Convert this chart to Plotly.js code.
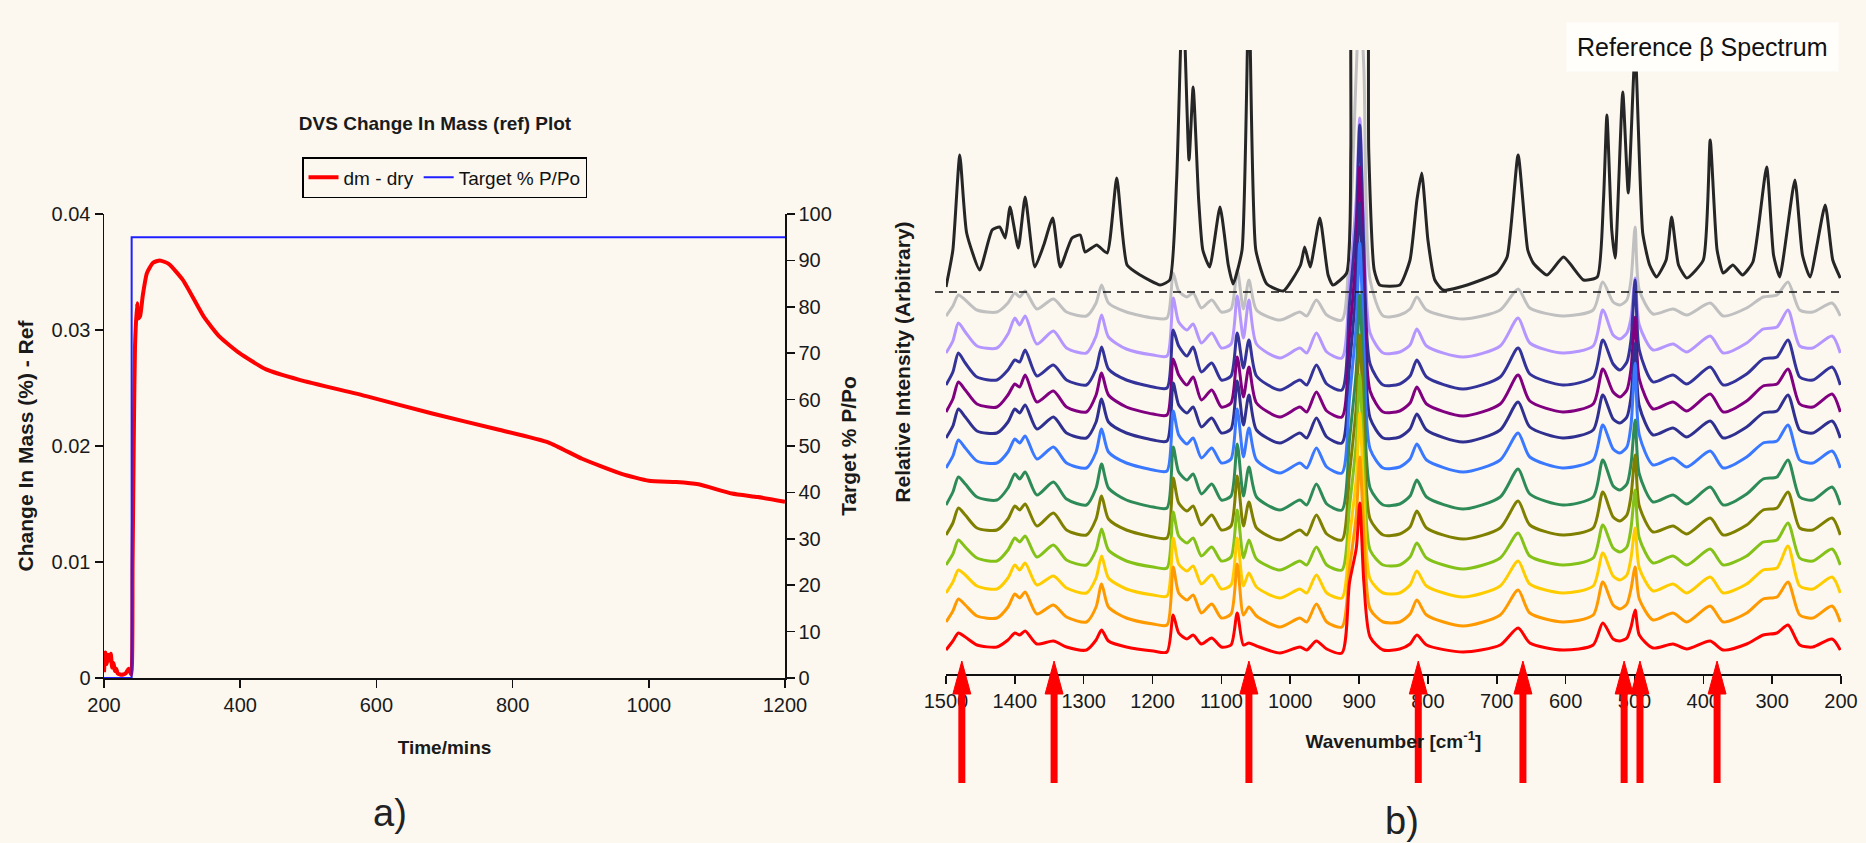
<!DOCTYPE html>
<html><head><meta charset="utf-8">
<script src="https://cdn.plot.ly/plotly-3.0.1.min.js"></script>
<style>html,body{margin:0;padding:0;background:#fcf8f0;} #chart{width:1866px;height:843px;}</style>
</head><body><div id="chart"></div>
<script>
// ---------- Panel a) DVS data ----------
const dvsTime = [200,202,204,206,208,210,212,214,216,218,220,224,228,232,236,240,242,244,245.5,248.5,250.5,253,257,263,272,282,295,316,347,370,399,438,487,585,682,780,853,902,960,1000,1040,1073,1122,1160,1200];
const dvsMass = [0.0005,0.0022,0.0012,0.002,0.0015,0.0021,0.0009,0.0013,0.0006,0.0008,0.0004,0.0003,0.0003,0.0004,0.0008,0.0003,0.01,0.022,0.0285,0.0323,0.031,0.0312,0.033,0.0349,0.0358,0.036,0.0357,0.0343,0.0311,0.0294,0.028,0.0266,0.0257,0.0243,0.0228,0.0214,0.0203,0.0189,0.0176,0.017,0.0169,0.0167,0.0159,0.0156,0.0152];
const targetTime = [200,240.6,240.6,1200];
const targetRH = [0,0,95,95];

// ---------- Panel b) Raman spectra ----------
const wavenumber = [1500,1490,1482,1472,1455,1426,1410,1400,1393,1385,1368,1344,1325,1296,1282,1274,1264,1238,1199,1179,1170,1162,1150,1141,1129,1114,1100,1086,1077,1068,1060,1049,1015,986,976,962,947,925,914,904,899,893,884,865,841,826,816,802,749,695,669,652,604,560,546,531,521,511,505,499,493,473,444,424,390,371,337,313,293,277,260,241,213,201];

const sGray   = [4,14,25,20,10,8,17,27,23,29,11,21,8,4,17,35,17,8,2,2,47,29,23,27,12,20,8,11,50,11,40,10,0,8,4,20,5,0,80,250,330,250,40,4,5,11,23,10,1,10,31,12,4,10,38,18,15,20,40,93,30,6,11,5,17,4,12,23,25,38,10,8,17,4];
const sLavender = [5,17,35,26,12,10,24,40,33,42,14,27,10,5,22,43,21,9,3,2,60,36,28,34,15,25,10,14,62,20,58,14,0,10,5,25,6,0,75,160,240,130,25,5,6,13,29,12,1,12,40,15,5,12,48,23,19,25,40,80,33,8,14,6,22,5,15,29,31,48,12,10,22,5];
const sNavy   = [5,18,37,27,13,10,20,30,28,40,14,25,10,5,21,43,21,10,3,2,60,44,34,43,18,27,10,14,57,22,50,14,0,10,5,25,6,0,85,170,265,140,26,5,6,14,30,13,1,13,42,16,5,13,50,26,20,28,50,110,40,8,15,6,23,5,16,31,33,50,13,10,23,5];
const sPurple = [5,18,35,27,13,10,22,33,30,42,15,26,10,5,22,44,22,10,3,2,58,42,32,40,17,27,10,14,60,20,50,14,0,10,5,25,6,0,80,165,250,135,26,5,6,14,30,13,1,13,42,16,5,13,48,25,20,27,48,100,38,8,15,6,23,5,16,31,33,48,13,10,23,5];
const sIndigo = [5,17,34,26,12,10,21,34,30,38,14,26,10,5,21,44,21,10,3,2,60,38,30,36,16,25,10,14,62,18,48,13,0,10,5,25,6,0,76,158,240,130,25,5,6,14,29,13,1,13,41,16,5,13,48,24,20,26,46,100,37,8,15,6,22,5,16,30,32,48,13,10,22,5];
const sBlue   = [5,17,33,25,12,10,21,34,30,37,14,26,10,5,21,44,21,10,3,2,62,38,29,35,15,25,10,14,64,16,45,13,0,10,5,25,6,0,74,150,230,125,24,5,6,14,29,13,1,13,40,16,5,13,48,24,20,26,48,110,38,8,15,6,22,5,16,30,32,48,13,10,22,5];
const sGreen  = [5,18,33,26,13,10,22,36,31,38,15,28,11,5,22,46,22,10,3,2,63,38,30,36,16,26,10,14,66,14,43,13,0,10,5,26,6,0,70,140,215,118,22,5,6,14,30,13,1,13,41,16,5,13,50,24,20,26,46,90,36,8,15,6,23,5,16,31,33,50,13,10,23,5];
const sOlive  = [5,17,32,25,12,10,21,34,30,36,14,27,10,5,21,44,21,10,3,2,62,37,29,34,15,25,10,14,64,14,38,12,0,10,5,25,6,0,66,134,205,112,21,5,6,13,29,12,1,12,39,15,5,12,48,23,19,25,44,85,34,8,14,6,22,5,15,30,32,48,12,10,22,5];
const sYellowGreen = [5,16,30,23,12,9,20,32,28,34,13,25,10,5,20,41,20,9,3,2,58,34,27,32,14,23,9,13,60,12,30,11,0,9,5,23,5,0,63,128,195,106,20,5,5,13,27,12,1,12,37,14,5,12,45,22,18,23,42,80,32,7,14,5,21,5,14,28,30,47,12,9,21,5];
const sGold   = [5,16,28,23,12,9,20,33,28,35,13,22,10,5,20,42,20,9,3,2,60,34,27,32,14,23,9,13,60,12,25,11,0,9,5,23,5,0,60,120,185,100,19,5,5,13,27,12,1,12,37,14,5,12,45,22,18,23,40,70,30,7,14,5,21,5,14,28,30,52,12,9,21,5];
const sOrange = [5,16,28,22,11,9,20,33,29,35,13,22,10,5,20,43,20,9,3,2,60,34,27,32,14,23,9,13,63,12,20,11,0,9,5,23,5,0,58,112,170,92,18,5,5,13,27,12,1,12,37,14,5,12,45,22,18,23,38,60,28,7,14,5,21,5,14,28,30,45,12,9,21,5];
const sRed    = [3,12,20,16,8,6,13,20,18,22,9,12,6,3,13,23,12,6,2,1,38,20,14,18,9,15,6,8,40,8,10,7,0,6,3,12,4,0,70,105,150,70,16,3,4,9,18,8,1,8,25,10,3,8,30,14,12,15,26,43,18,5,9,4,12,3,9,18,20,28,8,6,14,3];

const spectraOrder  = [sLavender,sNavy,sPurple,sIndigo,sBlue,sGreen,sOlive,sYellowGreen,sGold,sOrange,sRed];
const spectraColors = ['#b596ff','#333399','#800080','#303090','#3a78ff','#2e8b57','#808000','#84c21a','#ffcc00','#ff9900','#ff0000'];
const spectraOffsets = [316,284,257,231,201,164,134,104,76,47,21];
const grayColor = '#c0c0c0', grayOffset = 354;

// Reference beta spectrum
const refWavenumber = [1500,1490,1480,1470,1451,1433,1422,1414,1407,1395,1385,1371,1358,1345,1334,1317,1305,1298,1281,1266,1252,1237,1218,1189,1175,1165,1156,1147,1141,1133,1127,1117,1102,1090,1083,1070,1060,1050,1034,1010,985,979,971,957,945,938,918,912,910,900,889,886,878,870,841,826,816,809,800,790,778,743,700,685,669,655,647,627,603,574,554,545,540,533,528,517,509,499,488,478,468,454,446,436,424,400,390,380,371,357,343,328,308,298,289,267,256,245,223,212,201];
const refIntensity = [0,37,132,54,17,57,60,49,80,39,90,20,42,69,20,49,52,35,42,34,109,22,12,2,7,107,300,127,200,87,37,20,80,22,3,37,300,37,3,-4,22,40,20,69,12,2,14,137,320,300,320,137,17,2,2,27,87,114,47,7,-3,2,14,30,132,37,24,12,30,7,10,87,172,57,29,195,94,237,54,22,10,27,70,22,9,27,147,37,14,22,12,25,120,32,10,107,32,10,82,27,9];
const refOffset = 387;
const dashedLevel = 382;

const arrowWavenumbers = [1477,1343,1060,814,662,515,492,380];

// ---------- build ----------
const FONT = 'Liberation Sans, Arial, sans-serif';
const W = 1866, H = 843;
const px = v => v / W, py = v => 1 - v / H;

const traces = [];
traces.push({x: dvsTime, y: dvsMass, type:'scatter', mode:'lines', name:'dm - dry',
  line:{color:'#ff0000', width:4, shape:'spline', smoothing:0.5}, xaxis:'x', yaxis:'y'});
traces.push({x: targetTime, y: targetRH, type:'scatter', mode:'lines', name:'Target % P/Po',
  line:{color:'#1f1fff', width:2}, xaxis:'x', yaxis:'y2'});

traces.push({x: wavenumber, y: sGray.map(v => v + grayOffset), type:'scatter', mode:'lines', showlegend:false,
  line:{color:grayColor, width:3, shape:'spline', smoothing:0.7}, xaxis:'x3', yaxis:'y3'});
traces.push({x: refWavenumber, y: refIntensity.map(v => v + refOffset), type:'scatter', mode:'lines', showlegend:false,
  line:{color:'#262626', width:3, shape:'spline', smoothing:0.5}, xaxis:'x3', yaxis:'y3'});
spectraOrder.forEach((s, i) => {
  traces.push({x: wavenumber, y: s.map(v => v + spectraOffsets[i]), type:'scatter', mode:'lines', showlegend:false,
    line:{color:spectraColors[i], width:3, shape:'spline', smoothing:0.7}, xaxis:'x3', yaxis:'y3'});
});

const axisCommon = {showline:true, linecolor:'#111', linewidth:1.5, ticks:'outside', ticklen:8, tickwidth:1.5,
  tickcolor:'#111', showgrid:false, zeroline:false, tickfont:{family:FONT, size:20, color:'#1a1a1a'}};

// red marker arrows below the wavenumber axis (shaft + head), placed at the data wavenumbers
const halfHead = 13; // cm-1
const shapes = [{type:'line', xref:'paper', yref:'y3', x0: px(935), x1: px(1843), y0: dashedLevel, y1: dashedLevel,
    line:{color:'#111', width:1.5, dash:'8px,6px'}}];
arrowWavenumbers.forEach(w => {
  shapes.push({type:'line', layer:'above', xref:'x3', yref:'paper', x0:w, x1:w, y0: py(783), y1: py(690),
    line:{color:'#ff0000', width:7}});
  shapes.push({type:'path', layer:'above', xref:'x3', yref:'paper',
    path:`M ${w + halfHead},${py(694)} L ${w},${py(661)} L ${w - halfHead},${py(694)} Z`,
    fillcolor:'#ff0000', line:{color:'#ff0000', width:1}});
});

const annotations = [];
annotations.push({x: px(1702), y: py(47), xref:'paper', yref:'paper', xanchor:'center', yanchor:'middle',
  text:'Reference β Spectrum', showarrow:false,
  font:{family:FONT, size:25, color:'#111'}, bgcolor:'#fffefb', borderpad:10});
annotations.push({x: px(390), y: py(813), xref:'paper', yref:'paper', xanchor:'center', yanchor:'middle',
  text:'a)', showarrow:false, font:{family:FONT, size:38, color:'#222'}});
annotations.push({x: px(1402), y: py(821), xref:'paper', yref:'paper', xanchor:'center', yanchor:'middle',
  text:'b)', showarrow:false, font:{family:FONT, size:38, color:'#222'}});

const layout = {
  width: W, height: H, margin:{l:0, r:0, t:0, b:0},
  paper_bgcolor:'#fcf8f0', plot_bgcolor:'rgba(0,0,0,0)',
  font:{family:FONT, color:'#1a1a1a'},
  title:{text:'<b>DVS Change In Mass (ref) Plot</b>', x: px(435), y: py(123), xanchor:'center', yanchor:'middle',
    font:{family:FONT, size:19, color:'#1a1a1a'}},
  showlegend:true,
  legend:{orientation:'h', x: px(302), xanchor:'left', y: py(157), yanchor:'top', bordercolor:'#000', borderwidth:1.5,
    bgcolor:'rgba(0,0,0,0)', font:{family:FONT, size:19, color:'#111'}},
  xaxis: Object.assign({}, axisCommon, {domain:[px(104), px(785)], range:[200,1200], tick0:200, dtick:200, anchor:'y',
    title:{text:'<b>Time/mins</b>', font:{family:FONT, size:19}, standoff:26}}),
  yaxis: Object.assign({}, axisCommon, {domain:[py(678), py(214)], range:[0,0.04], dtick:0.01, anchor:'x',
    title:{text:'<b>Change In Mass (%) - Ref</b>', font:{family:FONT, size:21}, standoff:12}}),
  yaxis2: Object.assign({}, axisCommon, {overlaying:'y', side:'right', anchor:'x', range:[0,100], dtick:10,
    title:{text:'<b>Target % P/Po</b>', font:{family:FONT, size:21}, standoff:10}}),
  xaxis3: Object.assign({}, axisCommon, {domain:[px(946), px(1841)], range:[1500,200], dtick:100, anchor:'y3',
    title:{text:'<b>Wavenumber [cm<sup>-1</sup>]</b>', font:{family:FONT, size:19}, standoff:24}}),
  yaxis3: {domain:[py(674), py(50)], range:[0,624], anchor:'x3', showticklabels:false, showline:false, ticks:'',
    showgrid:false, zeroline:false,
    title:{text:'<b>Relative Intensity (Arbitrary)</b>', font:{family:FONT, size:21, color:'#1a1a1a'}, standoff:28}},
  shapes: shapes,
  annotations: annotations
};

Plotly.newPlot('chart', traces, layout, {displayModeBar:false, staticPlot:true});
</script></body></html>
